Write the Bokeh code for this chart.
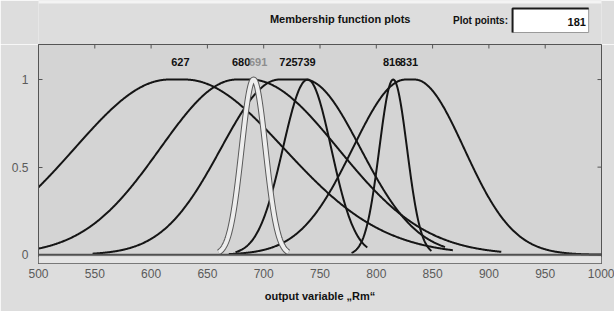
import numpy as np
from bokeh.plotting import figure
from bokeh.layouts import column
from bokeh.models import FixedTicker, ColumnDataSource, Span, BoxAnnotation, Range1d
from bokeh.embed import file_html
from bokeh.resources import INLINE
from bokeh.core.properties import value

# ---- data (MATLAB gauss2mf membership functions) ----
mf_names = ["627", "680", "691", "725", "739", "816", "831"]
center_left = [616, 676, 691, 714, 739, 815, 826]
center_right = [630, 688, 691, 736, 739, 815, 834]
sigma_left = [84, 68, 10.6, 52, 22, 12.3, 47]
sigma_right = [88, 78, 10.6, 50, 21, 12.3, 44]
x_start = [500, 500, 660, 548, 675, 778, 669]
x_end = [868, 911, 722, 861, 792, 849, 1000]
label_x = [626, 680, 695, 722, 738, 814, 829]
selected_mf = "691"
x_ticks = [500, 550, 600, 650, 700, 750, 800, 850, 900, 950, 1000]
y_ticks = [0, 0.5, 1]
x_lim = (500, 1000)
y_lim = (-0.05, 1.2)
plot_points = 181
title_text = "Membership function plots"
points_text = "Plot points:"
x_label = "output variable \u201eRm\u201c"

FONT = "Liberation Sans"
BG = "#dddddd"
W = 614
HEAD_H = 44
H = 311 - HEAD_H
ML, MR, MB = 38, 13, 48


def gauss2mf(x, s1, c1, s2, c2):
    y = np.ones_like(x)
    lo = x < c1
    hi = x > c2
    y[lo] = np.exp(-((x[lo] - c1) ** 2) / (2.0 * s1 ** 2))
    y[hi] = np.exp(-((x[hi] - c2) ** 2) / (2.0 * s2 ** 2))
    return y


# ---------------- header strip (pixel coordinates, y downwards) ----------------
head = figure(width=W, height=HEAD_H, x_range=Range1d(0, W), y_range=Range1d(HEAD_H, 0),
              output_backend="svg", toolbar_location=None,
              min_border=0, min_border_left=0, min_border_right=0,
              min_border_top=0, min_border_bottom=0)
head.axis.visible = False
head.grid.visible = False
head.title.visible = False
head.outline_line_color = None
head.background_fill_color = BG
head.border_fill_color = BG
# thin light margin at the very top of the window
head.quad(left=[0], right=[W], top=[0], bottom=[3], fill_color="#f4f4f4", line_color=None)
# sunken edit box
head.quad(left=[517], right=[600], top=[8], bottom=[32], fill_color="white",
          line_color="#9a9a9a", line_width=1)
head.line(x=[517, 517, 600], y=[32, 8, 8], line_color="#1a1a1a", line_width=2)
head.text(x=[329, 512, 597], y=[18, 20, 21],
          text=[title_text, points_text, str(plot_points)],
          text_align=["center", "right", "right"],
          text_font_size=["11px", "10px", "11px"],
          text_font=value(FONT), text_font_style="bold", text_color="#111111",
          text_baseline="middle")

# ---------------- membership function plot ----------------
p = figure(width=W, height=H, x_range=x_lim, y_range=y_lim,
           output_backend="svg", toolbar_location=None,
           min_border_left=ML, min_border_right=MR,
           min_border_top=0, min_border_bottom=MB)
p.title.visible = False
p.background_fill_color = "#d4d4d4"
p.border_fill_color = BG
p.outline_line_color = "#555555"
p.grid.visible = False

p.xaxis[0].ticker = FixedTicker(ticks=x_ticks)
p.yaxis[0].ticker = FixedTicker(ticks=y_ticks)
for ax in (p.xaxis[0], p.yaxis[0]):
    ax.major_tick_in = 4
    ax.major_tick_out = 0
    ax.minor_tick_line_color = None
    ax.axis_line_color = "#555555"
    ax.major_tick_line_color = "#555555"
    ax.major_label_text_font = FONT
    ax.major_label_text_font_size = "12px"
    ax.major_label_text_color = "#5a5a5a"
p.xaxis[0].major_label_standoff = 5
p.yaxis[0].major_label_standoff = 10
p.xaxis[0].axis_label = x_label
p.xaxis[0].axis_label_text_font = FONT
p.xaxis[0].axis_label_text_font_style = "bold"
p.xaxis[0].axis_label_text_font_size = "11px"
p.xaxis[0].axis_label_text_color = "#111111"
p.xaxis[0].axis_label_standoff = 9

# mirrored inward ticks on the top and right edges (MATLAB box)
fw = W - ML - MR
fh = H - MB
tick_dx = 4 * (x_lim[1] - x_lim[0]) / fw
tick_dy = 4 * (y_lim[1] - y_lim[0]) / fh
p.segment(x0=x_ticks, x1=x_ticks, y0=[y_lim[1]] * len(x_ticks),
          y1=[y_lim[1] - tick_dy] * len(x_ticks), line_color="#555555", line_width=1)
p.segment(x0=[x_lim[1]] * len(y_ticks), x1=[x_lim[1] - tick_dx] * len(y_ticks),
          y0=y_ticks, y1=y_ticks, line_color="#555555", line_width=1)

# light strip below the zero level and the zero line
p.add_layout(BoxAnnotation(top=-0.012, bottom=y_lim[0], fill_color="#e4e4e4", fill_alpha=1, line_color=None))
p.add_layout(Span(location=0, dimension="width", line_color="#505050", line_width=2))

# curves
xs = np.linspace(x_lim[0], x_lim[1], 1001)
sel = None
for i, name in enumerate(mf_names):
    xx = xs[(xs >= x_start[i]) & (xs <= x_end[i])]
    yy = gauss2mf(xx, sigma_left[i], center_left[i], sigma_right[i], center_right[i])
    if name == selected_mf:
        sel = (xx, yy)
        continue
    p.line(xx, yy, line_color="#151515", line_width=2, line_join="round")
if sel is not None:
    p.line(sel[0], sel[1], line_color="#5a5a5a", line_width=6, line_join="round")
    p.line(sel[0], sel[1], line_color="#ededed", line_width=4, line_join="round")

# MF labels
lab_src = ColumnDataSource(dict(
    x=label_x, y=[1.1] * len(mf_names), text=mf_names,
    color=["#8e8e8e" if n == selected_mf else "#111111" for n in mf_names]))
p.text(x="x", y="y", text="text", source=lab_src, text_color="color",
       text_font=value(FONT), text_font_style="bold", text_font_size="11px",
       text_align="center", text_baseline="middle")

layout = column(head, p, spacing=0)
open("out.html", "w").write(file_html(layout, INLINE))
